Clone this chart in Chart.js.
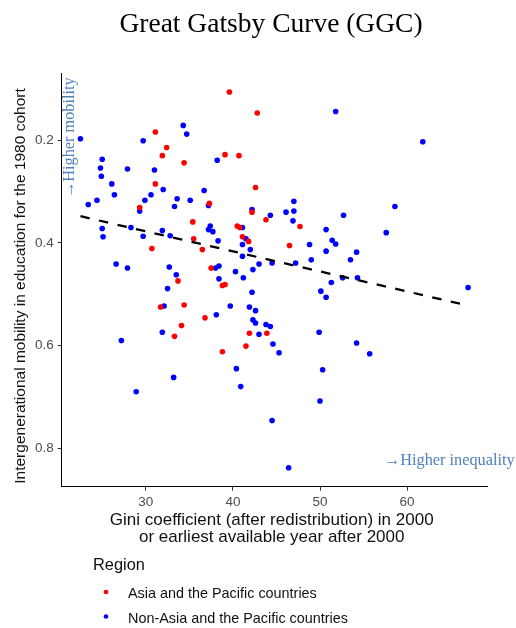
<!DOCTYPE html>
<html>
<head>
<meta charset="utf-8">
<title>Great Gatsby Curve (GGC)</title>
<script src="https://cdn.jsdelivr.net/npm/chart.js@4.4.1/dist/chart.umd.min.js"></script>
<style>
  html, body { margin: 0; padding: 0; background: #fff; }
  #wrap { width: 516px; height: 628px; }
</style>
</head>
<body>
<div id="wrap"><canvas id="ggc" width="516" height="628"></canvas></div>
<script>
// Gini after redistribution (x) and educational mobility, 1980 cohort (y)
const asiaGini = [39.6, 42.8, 31.1, 32.4, 31.9, 39.1, 40.7, 34.4, 31.1, 42.6,
    29.3, 37.3, 42.2, 43.8, 35.4, 40.5, 40.8, 41.1, 35.5, 36.5,
    41.8, 30.7, 37.5, 33.7, 38.8, 39.1, 47.7, 46.5, 31.7, 34.4,
    36.8, 34.1, 33.3, 41.9, 43.9, 41.5, 38.8];
const asiaMobility = [0.106, 0.147, 0.184, 0.214, 0.230, 0.228, 0.230, 0.244, 0.285, 0.292,
    0.331, 0.323, 0.340, 0.355, 0.359, 0.367, 0.370, 0.388, 0.392, 0.413,
    0.397, 0.411, 0.449, 0.474, 0.483, 0.481, 0.368, 0.405, 0.525, 0.521,
    0.546, 0.561, 0.582, 0.576, 0.576, 0.601, 0.612];

const otherGini = [22.5, 34.3, 34.7, 29.7, 25.0, 38.2, 24.8, 27.9, 31.0, 24.9,
    26.1, 32.0, 36.7, 26.4, 30.6, 24.4, 23.4, 29.9, 33.6, 35.1,
    33.3, 37.2, 29.3, 42.2, 44.3, 25.0, 25.1, 28.3, 29.7, 31.9,
    32.8, 37.4, 37.2, 37.7, 38.3, 41.1, 41.5, 41.1, 42.0, 41.1,
    43.0, 44.5, 42.3, 26.6, 27.9, 32.7, 33.5, 38.0, 38.4, 40.3,
    41.2, 38.4,
    51.8, 61.8, 58.6, 47.0, 46.1, 47.0, 46.9, 52.7, 50.7, 57.6,
    48.8, 51.4, 51.8, 50.7, 54.2, 49.0, 53.5, 47.2, 52.6, 54.3,
    51.3,
    32.5, 42.2, 32.1, 39.7, 41.9, 42.6, 38.1, 42.3, 42.6, 43.8,
    44.3, 31.9, 43.0, 27.2, 44.6, 45.3, 40.4, 33.2, 40.9, 28.9,
    44.5,
    67.0, 50.1, 50.7, 49.9, 54.2, 55.7, 50.3, 50.0, 46.4];
const otherMobility = [0.197, 0.171, 0.188, 0.201, 0.237, 0.239, 0.254, 0.256, 0.258, 0.270,
    0.285, 0.296, 0.298, 0.306, 0.306, 0.317, 0.325, 0.317, 0.314, 0.317,
    0.329, 0.327, 0.338, 0.335, 0.346, 0.372, 0.388, 0.370, 0.387, 0.376,
    0.386, 0.367, 0.374, 0.378, 0.396, 0.370, 0.392, 0.403, 0.413, 0.426,
    0.441, 0.439, 0.452, 0.441, 0.449, 0.447, 0.462, 0.449, 0.445, 0.456,
    0.468, 0.470,
    0.144, 0.203, 0.329, 0.319, 0.340, 0.338, 0.357, 0.346, 0.374, 0.380,
    0.403, 0.395, 0.402, 0.416, 0.418, 0.433, 0.433, 0.439, 0.468, 0.468,
    0.477,
    0.489, 0.496, 0.523, 0.523, 0.525, 0.532, 0.540, 0.550, 0.556, 0.559,
    0.563, 0.574, 0.578, 0.590, 0.597, 0.614, 0.645, 0.662, 0.680, 0.690,
    0.746,
    0.487, 0.494, 0.506, 0.574, 0.595, 0.616, 0.647, 0.708, 0.838];

// ends of the linear fit over all countries
const fitGini = [22.5, 67.0];
const fitMobility = [0.348, 0.522];

const giniTicks = [30, 40, 50, 60];
const mobilityTicks = [0.2, 0.4, 0.6, 0.8];
const regionNames = ['Asia and the Pacific countries', 'Non-Asia and the Pacific countries'];
const regionColors = ['#ff0000', '#0000ff'];

const pairs = (xs, ys) => xs.map((x, i) => ({ x: x, y: ys[i] }));

const SANS = '"Liberation Sans", Arial, sans-serif';
const SERIF = '"Liberation Serif", "DejaVu Serif", serif';
const NOTE = '#4f81bd';

// titles, arrow notes and the legend are painted on top of the chart
const decorations = {
    id: 'decorations',
    afterDraw(chart) {
        const ctx = chart.ctx;
        const area = chart.chartArea;
        ctx.save();

        ctx.fillStyle = '#000';
        ctx.textAlign = 'center';
        ctx.textBaseline = 'alphabetic';
        ctx.font = '27.5px ' + SERIF;
        ctx.fillText('Great Gatsby Curve (GGC)', 271, 32);

        // axis titles
        ctx.fillStyle = '#111';
        ctx.font = '17px ' + SANS;
        const midX = (area.left + area.right) / 2 - 3;
        ctx.fillText('Gini coefficient (after redistribution) in 2000', midX, 524.5);
        ctx.fillText('or earliest available year after 2000', midX, 541.5);

        ctx.save();
        ctx.translate(25, (area.top + area.bottom) / 2 + 6);
        ctx.rotate(-Math.PI / 2);
        ctx.font = '15.5px ' + SANS;
        ctx.fillText('Intergenerational mobility in education for the 1980 cohort', 0, 0);
        ctx.restore();

        // direction notes
        ctx.fillStyle = NOTE;
        ctx.font = '16.3px ' + SERIF;
        ctx.textAlign = 'left';
        ctx.fillText('\u2192Higher inequality', 384, 465);

        ctx.save();
        ctx.translate(area.left + 12.5, 198);
        ctx.rotate(-Math.PI / 2);
        ctx.fillText('\u2192Higher mobility', 0, 0);
        ctx.restore();

        // legend
        ctx.fillStyle = '#111';
        ctx.font = '16.4px ' + SANS;
        ctx.fillText('Region', 93, 569.5);
        ctx.font = '14.4px ' + SANS;
        regionNames.forEach((name, i) => {
            const y = 592 + i * 24.5;
            ctx.fillStyle = regionColors[i];
            ctx.beginPath();
            ctx.arc(106, y, 2.3, 0, Math.PI * 2);
            ctx.fill();
            ctx.fillStyle = '#111';
            ctx.fillText(name, 128, y + 6);
        });

        ctx.restore();
    }
};

const ctx = document.getElementById('ggc').getContext('2d');
new Chart(ctx, {
    type: 'scatter',
    data: {
        datasets: [
            {
                label: 'Linear fit',
                data: pairs(fitGini, fitMobility),
                showLine: true,
                borderColor: '#000',
                borderWidth: 2.3,
                borderDash: [9.5, 9.5],
                pointRadius: 0,
                fill: false
            },
            {
                label: regionNames[0],
                data: pairs(asiaGini, asiaMobility),
                backgroundColor: regionColors[0],
                borderWidth: 0,
                pointRadius: 2.8
            },
            {
                label: regionNames[1],
                data: pairs(otherGini, otherMobility),
                backgroundColor: regionColors[1],
                borderWidth: 0,
                pointRadius: 2.8
            }
        ]
    },
    options: {
        responsive: false,
        animation: false,
        devicePixelRatio: 1,
        layout: { padding: { left: 0, top: 73.3, right: 28.3, bottom: 0 } },
        plugins: {
            legend: { display: false },
            tooltip: { enabled: false },
            title: { display: false }
        },
        scales: {
            x: {
                type: 'linear',
                min: 20.35,
                max: 69.25,
                afterBuildTicks: (scale) => { scale.ticks = giniTicks.map(v => ({ value: v })); },
                afterFit: (scale) => { scale.height = 141.3; },
                ticks: {
                    color: '#4d4d4d',
                    font: { family: SANS, size: 13.5 },
                    padding: 3,
                    maxRotation: 0,
                    callback: (v) => String(v)
                },
                grid: { drawOnChartArea: false, drawTicks: true, tickLength: 4, tickColor: '#333' },
                border: { display: true, color: '#000', width: 1 }
            },
            y: {
                type: 'linear',
                reverse: true,
                min: 0.0695,
                max: 0.875,
                afterBuildTicks: (scale) => { scale.ticks = mobilityTicks.map(v => ({ value: v })); },
                afterFit: (scale) => { scale.width = 61.7; },
                ticks: {
                    color: '#4d4d4d',
                    font: { family: SANS, size: 13.5 },
                    padding: 4,
                    callback: (v) => v.toFixed(1)
                },
                grid: { drawOnChartArea: false, drawTicks: true, tickLength: 4, tickColor: '#333' },
                border: { display: true, color: '#000', width: 1 }
            }
        }
    },
    plugins: [decorations]
});
</script>
</body>
</html>
